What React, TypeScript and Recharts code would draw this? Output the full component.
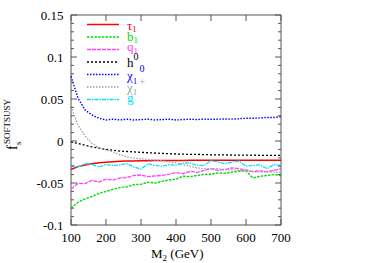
import React from 'react';
import { LineChart, Line, XAxis, YAxis, ReferenceArea } from 'recharts';

const M2 = [100,120,140,160,180,200,220,240,260,280,300,320,340,360,380,400,420,440,460,480,500,520,540,560,580,600,620,640,660,680,700];

const tau1 = [-0.034,-0.0305,-0.0285,-0.027,-0.026,-0.0252,-0.0246,-0.0242,-0.0239,-0.0237,-0.0235,-0.0234,-0.0233,-0.0232,-0.0232,-0.0231,-0.0231,-0.023,-0.023,-0.023,-0.023,-0.023,-0.023,-0.023,-0.023,-0.023,-0.023,-0.023,-0.023,-0.023,-0.023];
const b1 = [-0.080,-0.073,-0.069,-0.066,-0.0625,-0.060,-0.0575,-0.0555,-0.0545,-0.052,-0.0515,-0.049,-0.050,-0.048,-0.0465,-0.0455,-0.042,-0.0425,-0.041,-0.0397,-0.0395,-0.038,-0.0385,-0.037,-0.036,-0.0355,-0.044,-0.042,-0.041,-0.040,-0.041];
const q1 = [-0.057,-0.0505,-0.0508,-0.047,-0.0488,-0.0455,-0.0465,-0.044,-0.0435,-0.041,-0.0405,-0.0425,-0.0415,-0.041,-0.0395,-0.0375,-0.039,-0.036,-0.0375,-0.035,-0.033,-0.035,-0.034,-0.032,-0.033,-0.0345,-0.0365,-0.0355,-0.0365,-0.035,-0.033];
const h0 = [-0.001,-0.003,-0.005,-0.007,-0.0085,-0.010,-0.011,-0.012,-0.0125,-0.013,-0.0135,-0.014,-0.0143,-0.0148,-0.015,-0.0155,-0.0157,-0.016,-0.016,-0.0162,-0.0164,-0.0165,-0.0166,-0.0167,-0.0168,-0.0168,-0.0169,-0.017,-0.017,-0.017,-0.017];
const chi10 = [0.077,0.051,0.037,0.031,0.027,0.025,0.026,0.025,0.026,0.025,0.0255,0.026,0.025,0.0255,0.026,0.025,0.0255,0.026,0.0255,0.026,0.0258,0.026,0.0262,0.026,0.0265,0.027,0.027,0.0275,0.028,0.028,0.029];
const chi1p = [0.041,0.019,0.006,-0.003,-0.008,-0.0105,-0.013,-0.0165,-0.019,-0.0205,-0.021,-0.022,-0.023,-0.0235,-0.025,-0.026,-0.028,-0.030,-0.032,-0.033,-0.033,-0.033,-0.034,-0.0345,-0.035,-0.036,-0.0365,-0.037,-0.037,-0.037,-0.0375];
const gluino = [-0.0288,-0.031,-0.027,-0.028,-0.031,-0.028,-0.029,-0.0285,-0.0268,-0.031,-0.0335,-0.027,-0.029,-0.030,-0.028,-0.029,-0.0265,-0.026,-0.029,-0.029,-0.0236,-0.025,-0.027,-0.025,-0.024,-0.030,-0.029,-0.0285,-0.033,-0.028,-0.029];

const xTicks = [100,200,300,400,500,600,700];
const yTicks = [-0.1,-0.09,-0.08,-0.07,-0.06,-0.05,-0.04,-0.03,-0.02,-0.01,0,0.01,0.02,0.03,0.04,0.05,0.06,0.07,0.08,0.09,0.1,0.11,0.12,0.13,0.14,0.15];
const yMajorLabels: Record<string, string> = { '-0.1': '-0.1', '-0.05': '-0.05', '0': '0', '0.05': '0.05', '0.1': '0.1', '0.15': '0.15' };

const series = [
  { key: 'tau1', color: '#ff0000', dash: undefined, width: 1.5 },
  { key: 'b1', color: '#00dd00', dash: '2.5 1.2', width: 1.4 },
  { key: 'q1', color: '#ff40ff', dash: '4 1', width: 1.3 },
  { key: 'h0', color: '#000000', dash: '2 2', width: 1.3 },
  { key: 'chi10', color: '#0000ff', dash: '1.5 1.5', width: 1.4 },
  { key: 'chi1p', color: '#a0a0a0', dash: '1.5 1.5', width: 1.3 },
  { key: 'gluino', color: '#00e0ff', dash: '4 1 1.5 1', width: 1.3 },
];

const data = M2.map((m, i) => ({
  m,
  tau1: tau1[i], b1: b1[i], q1: q1[i], h0: h0[i], chi10: chi10[i], chi1p: chi1p[i], gluino: gluino[i],
}));

const W = 375, H = 263;
const PL = 71, PR = 281, PT = 15, PB = 225;
const FONT = '"Liberation Serif", "DejaVu Serif", serif';
const AX = '#555555';

const YTick = (props: any) => {
  const { y, payload } = props;
  const v = payload.value as number;
  const major = Math.abs(v * 20 - Math.round(v * 20)) < 1e-6;
  const len = major ? 6 : 3;
  const key = String(Math.round(v * 100) / 100);
  return (
    <g>
      <line x1={PL} x2={PL + len} y1={y} y2={y} stroke={AX} strokeWidth={1} />
      <line x1={PR - len} x2={PR} y1={y} y2={y} stroke={AX} strokeWidth={1} />
      {major && (
        <text x={63.5} y={y + 4.5} textAnchor="end" fontFamily={FONT} fontSize={13} fill="#000">
          {yMajorLabels[key] ?? key}
        </text>
      )}
    </g>
  );
};

const XTick = (props: any) => {
  const { x, payload } = props;
  return (
    <g>
      <line x1={x} x2={x} y1={PB} y2={PB - 6} stroke={AX} strokeWidth={1} />
      <line x1={x} x2={x} y1={PT} y2={PT + 6} stroke={AX} strokeWidth={1} />
      <text x={x} y={241.5} textAnchor="middle" fontFamily={FONT} fontSize={13} fill="#000">
        {payload.value}
      </text>
    </g>
  );
};

const LEG_Y0 = 24.5, LEG_STEP = 12.5;

export default function App() {
  return (
    <div style={{ position: 'absolute', left: 0, top: 0, width: W, height: H, background: '#fff' }}>
      <LineChart width={W} height={H} data={data} margin={{ top: PT, right: W - PR, bottom: 0, left: 0 }}>
        <XAxis
          dataKey="m" type="number" domain={[100, 700]} ticks={xTicks} interval={0}
          axisLine={false} tickLine={false} tickSize={0} tickMargin={0} height={H - PB}
          tick={<XTick />}
        />
        <YAxis
          type="number" domain={[-0.1, 0.15]} ticks={yTicks} interval={0}
          axisLine={false} tickLine={false} tickSize={0} tickMargin={0} width={PL}
          tick={<YTick />} allowDataOverflow
        />
        <ReferenceArea x1={100} x2={700} y1={-0.1} y2={0.15} fill="none" stroke={AX} strokeWidth={1} ifOverflow="visible" />
        {series.map((s) => (
          <Line
            key={s.key} dataKey={s.key} type="linear" stroke={s.color} strokeWidth={s.width}
            strokeDasharray={s.dash} dot={false} activeDot={false} isAnimationActive={false}
          />
        ))}
      </LineChart>
      <svg width={W} height={H} style={{ position: 'absolute', left: 0, top: 0, pointerEvents: 'none' }}>
        {series.map((s, i) => (
          <line key={s.key} x1={87} x2={119} y1={LEG_Y0 + i * LEG_STEP} y2={LEG_Y0 + i * LEG_STEP}
            stroke={s.color} strokeWidth={s.width} strokeDasharray={s.dash} />
        ))}
        <g fontFamily={FONT}>
          <text x={127} y={29.5} fontSize={13} fill="#ff0000">τ<tspan fontSize={9} dy={2.5}>1</tspan></text>
          <text x={127} y={40.5} fontSize={13} fill="#00dd00">b<tspan fontSize={9} dy={2.5}>1</tspan></text>
          <text x={127} y={51} fontSize={13} fill="#ff40ff">q<tspan fontSize={9} dy={2.5}>1</tspan></text>
          <text x={127} y={66.5} fontSize={13} fill="#000000">h<tspan fontSize={10} dy={-6.5}>0</tspan></text>
          <text x={139.5} y={71.5} fontSize={10} fill="#0000ff">0</text>
          <text x={127} y={80} fontSize={13} fill="#0000ff">χ<tspan fontSize={9} dy={3.5}>1</tspan></text>
          <text x={139.5} y={85} fontSize={10} fill="#a0a0a0">+</text>
          <text x={127} y={91.5} fontSize={13} fill="#a0a0a0">χ<tspan fontSize={9} dy={3.5}>1</tspan></text>
          <text x={127} y={101.5} fontSize={13} fill="#00e0ff">g</text>
        </g>
        <g fontFamily={FONT} transform="translate(17,150) rotate(-90)">
          <text x={0} y={0} fontSize={14} fill="#000">f</text>
          <text x={5} y={3.5} fontSize={9} fill="#000">s</text>
          <text x={6} y={-7} fontSize={9} fill="#000">SOFTSUSY</text>
        </g>
        <text x={151} y={258} fontFamily={FONT} fontSize={13} fill="#000">
          M<tspan fontSize={9} dy={3}>2</tspan><tspan dy={-3}> (GeV)</tspan>
        </text>
      </svg>
    </div>
  );
}
